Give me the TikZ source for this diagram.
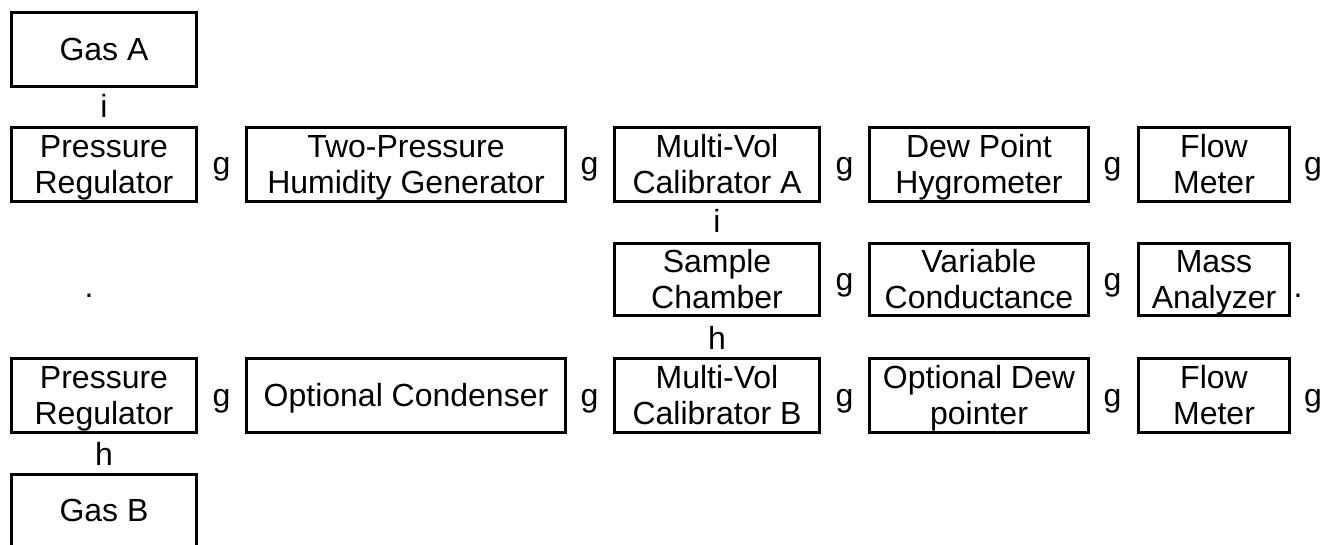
\documentclass[tikz,border=0pt]{standalone}
\usepackage{fontspec}
\setmainfont{Liberation Sans}
\usepackage{tikz}

\newcommand{\linestrut}{\vrule width 0pt height 29pt depth 7pt}

\begin{document}
\begin{tikzpicture}[x=1pt, y=-1pt,
    unit/.style={draw, line width=3pt, rectangle, inner sep=0pt, align=center,
        minimum height=74pt, font=\fontsize{32}{36}\selectfont},
    sym/.style={inner sep=0pt, anchor=base, font=\fontsize{32}{36}\selectfont}]
    \clip (0,0) rectangle (1323,544);

    % gas A line
    \node[unit, minimum width=185pt] (gasA) at (104,49.5) {\linestrut Gas A};
    \node[unit, minimum width=185pt] (regA) at (104,164) {\linestrut Pressure\\\linestrut Regulator};
    \node[unit, minimum width=319pt] (gen) at (406,164) {\linestrut Two-Pressure\\\linestrut Humidity Generator};
    \node[unit, minimum width=205pt] (mvA) at (717,164) {\linestrut Multi-Vol\\\linestrut Calibrator A};
    \node[unit, minimum width=219pt] (dew) at (979,164) {\linestrut Dew Point\\\linestrut Hygrometer};
    \node[unit, minimum width=151pt] (flowA) at (1214,164) {\linestrut Flow\\\linestrut Meter};

    % sample line
    \node[unit, minimum width=205pt, minimum height=72pt] (sample) at (717,279.5) {\linestrut Sample\\\linestrut Chamber};
    \node[unit, minimum width=219pt, minimum height=72pt] (varc) at (979,279.5) {\linestrut Variable\\\linestrut Conductance};
    \node[unit, minimum width=151pt, minimum height=72pt] (mass) at (1214,279.5) {\linestrut Mass\\\linestrut Analyzer};

    % gas B line
    \node[unit, minimum width=185pt] (regB) at (104,395.5) {\linestrut Pressure\\\linestrut Regulator};
    \node[unit, minimum width=319pt] (cond) at (406,395.5) {\linestrut Optional Condenser};
    \node[unit, minimum width=205pt] (mvB) at (717,395.5) {\linestrut Multi-Vol\\\linestrut Calibrator B};
    \node[unit, minimum width=219pt] (optdew) at (979,395.5) {\linestrut Optional Dew\\\linestrut pointer};
    \node[unit, minimum width=151pt] (flowB) at (1214,395.5) {\linestrut Flow\\\linestrut Meter};
    \node[unit, minimum width=185pt, minimum height=72pt] (gasB) at (104,510.5) {\linestrut Gas B};

    % flow symbols
    \node[sym] (gasAdown) at (104,117) {i};
    \node[sym] (mvAdown) at (717,232) {i};
    \node[sym] (sampleup) at (717,349) {h};
    \node[sym] (gasBup) at (104,465) {h};
    \node[sym] (gA1) at (221.5,174) {g};
    \node[sym] (gA2) at (589.5,174) {g};
    \node[sym] (gA3) at (844.5,174) {g};
    \node[sym] (gA4) at (1112.5,174) {g};
    \node[sym] (gA5) at (1313,174) {g};
    \node[sym] (gS1) at (844.5,290.5) {g};
    \node[sym] (gS2) at (1112.5,290.5) {g};
    \node[sym] (gB1) at (221.5,406) {g};
    \node[sym] (gB2) at (589.5,406) {g};
    \node[sym] (gB3) at (844.5,406) {g};
    \node[sym] (gB4) at (1112.5,406) {g};
    \node[sym] (gB5) at (1313,406) {g};
    \node[sym] (dotL) at (89,297) {.};
    \node[sym] (dotR) at (1298,297) {.};
\end{tikzpicture}
\end{document}
